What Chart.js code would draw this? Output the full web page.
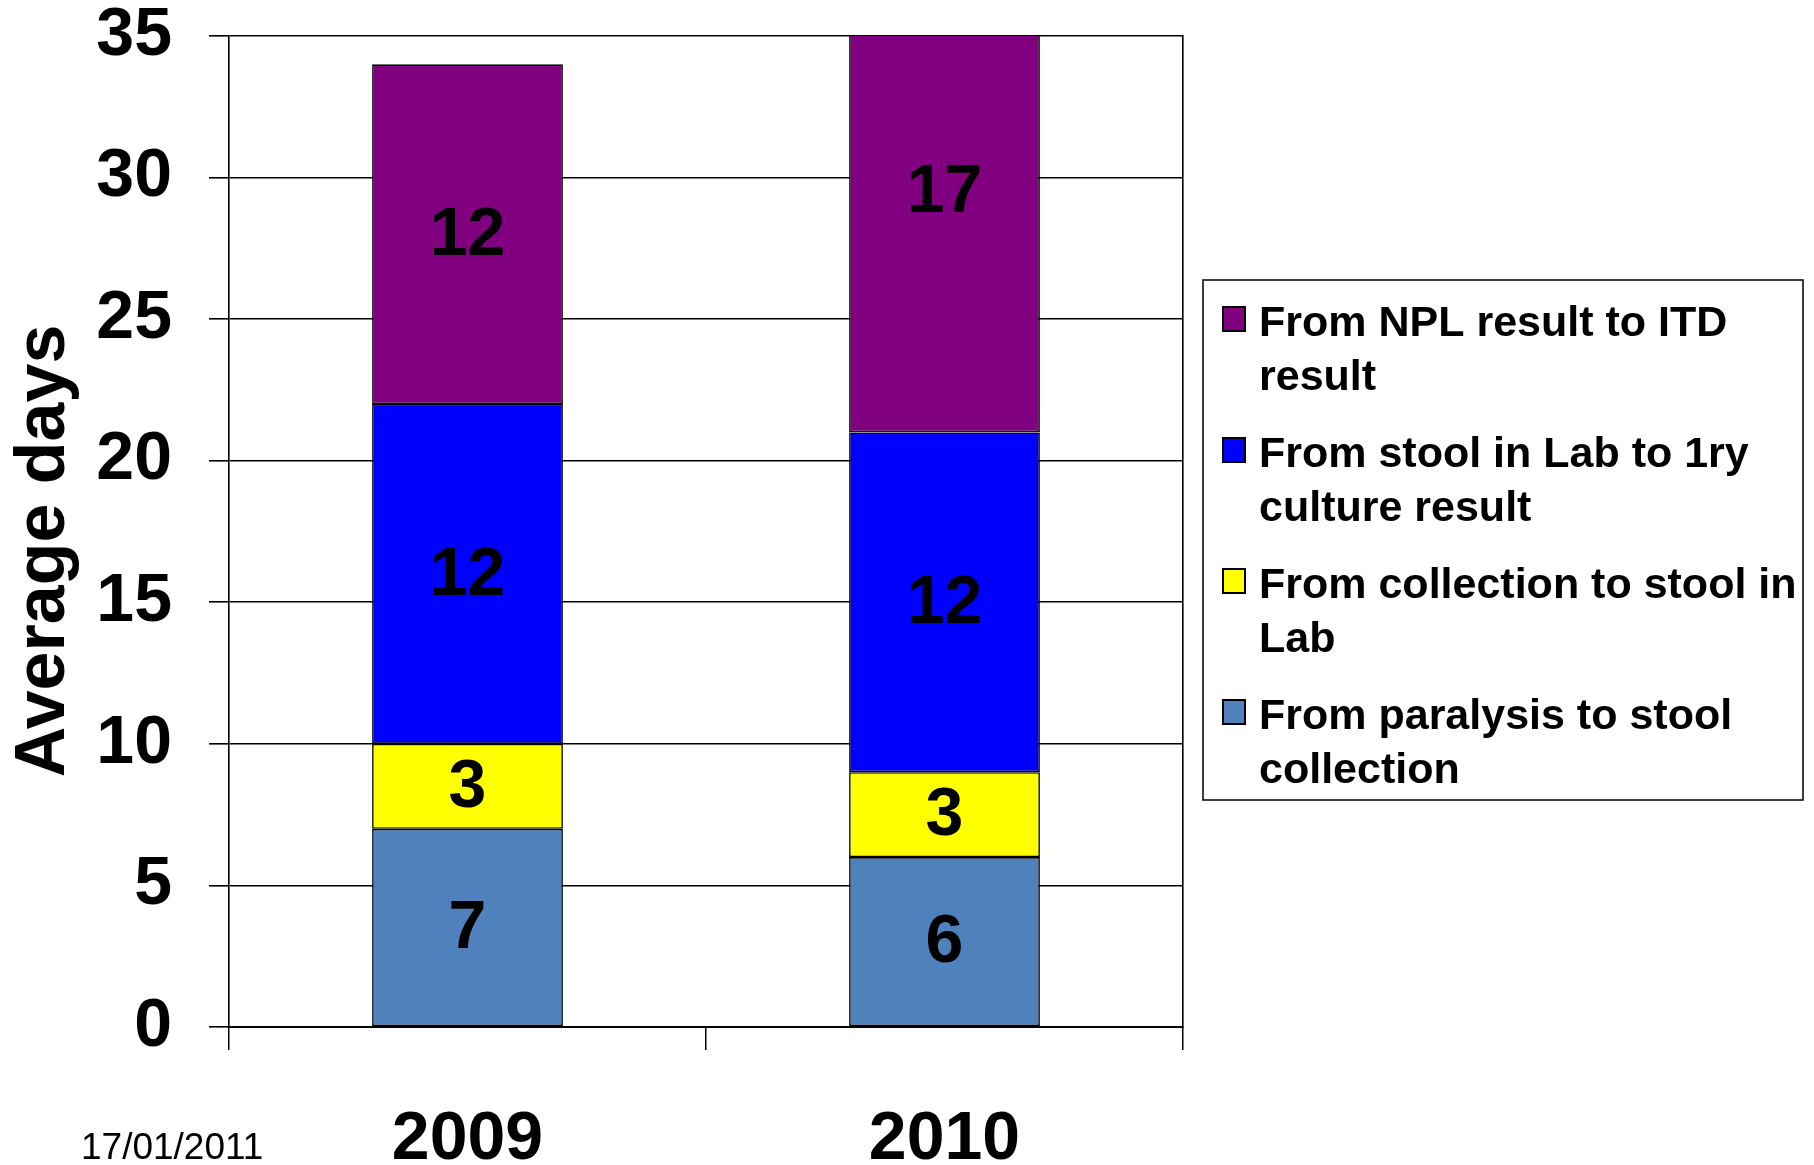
<!DOCTYPE html>
<html>
<head>
<meta charset="utf-8">
<script src="https://cdn.jsdelivr.net/npm/chart.js@4.4.0/dist/chart.umd.min.js"></script>
<style>
    html, body { margin: 0; padding: 0; background: #fff; }
    #contenedor { width: 1814px; height: 1165px; }
</style>
</head>
<body>
<div id="contenedor"><canvas id="grafico"></canvas></div>
<script>
// Datos del gráfico
const categorias = ['2009', '2010'];
const paralisis = [7, 6];
const coleccion = [3, 3];
const laboratorio = [12, 12];
const resultadoITD = [12, 17];
const marcasY = [0, 5, 10, 15, 20, 25, 30, 35];
const etiquetas = [
    ['From paralysis to stool', 'collection'],
    ['From collection to stool in', 'Lab'],
    ['From stool in Lab to 1ry', 'culture result'],
    ['From NPL result to ITD', 'result']
];
const colores = ['#4F81BD', '#FFFF00', '#0000FF', '#800080'];
const fecha = '17/01/2011';

const FUENTE = '"Liberation Sans", Arial, sans-serif';

// Valores dentro de cada segmento
const valoresBarras = {
    id: 'valoresBarras',
    afterDatasetsDraw(chart) {
        const ctx = chart.ctx;
        ctx.save();
        ctx.font = 'bold 68px ' + FUENTE;
        ctx.fillStyle = '#000';
        ctx.textAlign = 'center';
        ctx.textBaseline = 'middle';
        chart.data.datasets.forEach((ds, i) => {
            chart.getDatasetMeta(i).data.forEach((barra, j) => {
                ctx.fillText(String(ds.data[j]), barra.x, (barra.y + barra.base) / 2 + 2);
            });
        });
        ctx.restore();
    }
};

// Leyenda con texto en dos líneas y fecha
const leyenda = {
    id: 'leyenda',
    afterDraw(chart) {
        const ctx = chart.ctx;
        const x0 = chart.chartArea.right + 20;
        const y0 = 280;
        ctx.save();
        ctx.strokeStyle = '#000';
        ctx.lineWidth = 1.5;
        ctx.strokeRect(x0, y0, 600, 520);
        ctx.font = 'bold 43px ' + FUENTE;
        ctx.textBaseline = 'middle';
        ctx.textAlign = 'left';
        const lista = chart.data.datasets.slice().reverse();
        lista.forEach((ds, i) => {
            const yi = y0 + 39 + i * 131;
            ctx.fillStyle = ds.backgroundColor;
            ctx.fillRect(x0 + 20, yi - 12, 22, 24);
            ctx.lineWidth = 2;
            ctx.strokeRect(x0 + 20, yi - 12, 22, 24);
            ctx.fillStyle = '#000';
            ds.label.forEach((linea, k) => ctx.fillText(linea, x0 + 56, yi + 5 + k * 54));
        });
        ctx.font = '37px ' + FUENTE;
        ctx.fillText(fecha, 81, 1149);
        ctx.restore();
    }
};

const series = [paralisis, coleccion, laboratorio, resultadoITD];

new Chart(document.getElementById('grafico'), {
    type: 'bar',
    data: {
        labels: categorias,
        datasets: series.map((datos, i) => ({
            label: etiquetas[i],
            data: datos,
            backgroundColor: colores[i],
            borderColor: '#000',
            borderWidth: 1.6,
            borderSkipped: false,
            categoryPercentage: 1,
            barPercentage: 0.4
        }))
    },
    options: {
        responsive: true,
        maintainAspectRatio: false,
        animation: false,
        layout: { padding: { left: 0, top: 36, right: 631, bottom: 0 } },
        plugins: {
            legend: { display: false },
            tooltip: { enabled: false }
        },
        scales: {
            x: {
                stacked: true,
                grid: { offset: true, drawOnChartArea: false, color: '#000', lineWidth: 1.5, tickLength: 23 },
                border: { display: true, color: '#000', width: 2 },
                ticks: { color: '#000', font: { family: FUENTE, size: 68, weight: 'bold' }, padding: 49 },
                afterFit(s) { s.height = 138; }
            },
            y: {
                stacked: true,
                min: 0,
                max: 35,
                afterBuildTicks(s) { s.ticks = marcasY.map(v => ({ value: v })); },
                grid: { color: '#000', lineWidth: 1.6, tickLength: 20 },
                border: { display: true, color: '#000', width: 1.6 },
                ticks: { color: '#000', font: { family: FUENTE, size: 68, weight: 'bold' }, padding: 37 },
                title: {
                    display: true,
                    text: 'Average days  ',
                    color: '#000',
                    font: { family: FUENTE, size: 70, weight: 'bold' },
                    padding: { top: 3, bottom: 0 }
                },
                afterFit(s) { s.width = 229; s.paddingTop = 0; s.paddingBottom = 0; }
            },
            y2: {
                position: 'right',
                grid: { drawOnChartArea: false, drawTicks: false },
                border: { display: true, color: '#000', width: 1.6 },
                ticks: { display: false },
                afterFit(s) { s.width = 0; s.paddingTop = 0; s.paddingBottom = 0; }
            }
        }
    },
    plugins: [valoresBarras, leyenda]
});
</script>
</body>
</html>
